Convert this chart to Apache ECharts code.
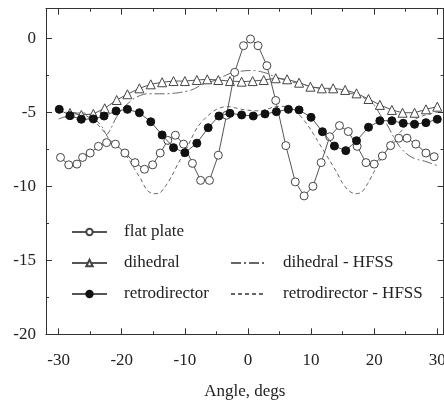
<!DOCTYPE html>
<html>
<head>
<meta charset="utf-8">
<script src="https://cdn.jsdelivr.net/npm/echarts@6/dist/echarts.min.js"></script>
<style>
html,body{margin:0;padding:0;background:#fff;}
#chart{width:444px;height:402px;}
</style>
</head>
<body>
<div id="chart"></div>
<script>
// ---- data ----
const xMajorTicks = [-30, -20, -10, 0, 10, 20, 30];
const xMinorTicks = [-25, -15, -5, 5, 15, 25];
const yMajorTicks = [-20, -15, -10, -5, 0];
const yMinorTicks = [-17.5, -12.5, -7.5, -2.5];

const flatPlate = [
  [-29.7,-8.05],[-28.4,-8.55],[-27.1,-8.5],[-26.2,-8.05],[-25.0,-7.75],[-23.7,-7.3],
  [-22.4,-7.05],[-21.0,-7.15],[-19.5,-7.75],[-17.9,-8.4],[-16.4,-8.85],[-15.1,-8.55],
  [-13.9,-7.75],[-12.7,-6.9],[-11.5,-6.55],[-10.2,-7.15],[-8.8,-8.45],[-7.5,-9.6],
  [-6.1,-9.6],[-4.7,-7.9],[-3.4,-5.2],[-2.1,-2.3],[-0.7,-0.5],[0.4,-0.05],[1.6,-0.5],
  [3.0,-1.85],[4.4,-4.2],[6.0,-7.25],[7.5,-9.7],[8.9,-10.65],[10.3,-10.0],[11.6,-8.4],
  [12.95,-6.65],[14.5,-5.9],[15.9,-6.3],[17.3,-7.3],[18.7,-8.4],[20.0,-8.5],[21.3,-7.95],
  [22.6,-7.25],[23.9,-6.75],[25.2,-6.75],[26.6,-7.15],[28.2,-7.75],[29.5,-8.0]
];
const dihedral = [
  [-28.2,-5.05],[-26.4,-5.18],[-24.5,-5.11],[-22.7,-4.73],[-20.8,-4.17],[-19.1,-3.78],
  [-17.2,-3.38],[-15.4,-3.11],[-13.6,-2.97],[-11.8,-2.89],[-10.0,-2.89],[-8.1,-2.82],
  [-6.45,-2.77],[-4.7,-2.82],[-2.85,-2.89],[-1.0,-2.93],[0.74,-2.89],[2.5,-2.82],
  [4.4,-2.7],[6.2,-2.77],[8.1,-3.0],[9.9,-3.27],[11.7,-3.38],[13.5,-3.38],[15.4,-3.49],
  [17.2,-3.72],[19.1,-4.1],[20.9,-4.5],[22.8,-4.84],[24.5,-5.03],[26.4,-5.03],
  [28.2,-4.8],[30.0,-4.62]
];
const retrodirector = [
  [-29.9,-4.8],[-28.2,-5.23],[-26.4,-5.47],[-24.5,-5.45],[-22.8,-5.25],[-20.9,-4.91],
  [-19.1,-4.8],[-17.2,-5.03],[-15.4,-5.64],[-13.6,-6.53],[-11.8,-7.39],[-10.0,-7.73],
  [-8.1,-7.09],[-6.3,-6.04],[-4.6,-5.25],[-2.85,-5.07],[-1.0,-5.18],[0.84,-5.25],
  [2.7,-5.11],[4.5,-4.96],[6.4,-4.8],[8.1,-4.84],[10.0,-5.34],[11.8,-6.31],[13.7,-7.28],
  [15.5,-7.59],[17.2,-6.92],[19.1,-6.01],[20.9,-5.57],[22.8,-5.57],[24.6,-5.74],
  [26.4,-5.81],[28.2,-5.7],[30.0,-5.47]
];
const dihedralHFSS = [
  [-30,-5.45],[-29,-5.3],[-28,-5.15],[-27,-5.05],[-26,-5.05],[-25,-5.2],[-24,-5.55],
  [-23,-6.05],[-22.4,-6.5],[-21.6,-6.0],[-21,-5.45],[-20,-4.8],[-19,-4.4],[-18,-4.05],
  [-17,-3.85],[-16,-3.75],[-15,-3.75],[-14,-3.75],[-13,-3.75],[-12,-3.72],[-11,-3.68],
  [-10,-3.6],[-9,-3.5],[-8,-3.3],[-7,-3.1],[-6,-2.95],[-5,-2.8],[-4,-2.6],[-3,-2.4],
  [-2,-2.28],[-1,-2.22],[0,-2.18],[1,-2.18],[2,-2.25],[3,-2.37],[4,-2.55],[5,-2.7],
  [6,-2.85],[7,-2.95],[8,-3.05],[9,-3.15],[10,-3.3],[11,-3.35],[12,-3.42],[13,-3.49],
  [14,-3.55],[15,-3.62],[16,-3.7],[17,-3.8],[18,-3.95],[19,-4.2],[20,-4.5],[21,-5.2],
  [22,-5.8],[23,-6.6],[24,-7.3],[25,-7.75],[26,-8.05],[27,-8.2],[28,-8.3],[29,-8.45],
  [30,-8.6]
];
const retrodirectorHFSS = [
  [-30,-5.0],[-29,-5.0],[-28,-5.0],[-27,-5.05],[-26,-5.15],[-25,-5.4],[-24,-5.75],
  [-23,-6.2],[-22,-6.8],[-21,-7.2],[-20,-7.6],[-19,-8.1],[-18,-8.8],[-17,-9.5],
  [-16,-10.25],[-15,-10.5],[-14,-10.45],[-13,-9.95],[-12,-9.25],[-11,-8.4],[-10,-7.7],
  [-9,-6.8],[-8,-6.0],[-7,-5.5],[-6,-5.1],[-5,-4.8],[-4,-4.65],[-3,-4.62],[-2,-4.7],
  [-1,-4.8],[0,-4.85],[1,-4.9],[2,-4.9],[3,-4.8],[4,-4.65],[5,-4.6],[6,-4.6],[7,-4.7],
  [8,-5.1],[9,-5.6],[10,-6.2],[11,-6.9],[12,-7.6],[13,-8.3],[14,-9.0],[15,-9.8],
  [16,-10.3],[17,-10.5],[18,-10.4],[19,-9.8],[20,-9.0],[21,-8.2],[22,-7.5],[23,-6.9],
  [24,-6.4],[25,-5.95],[26,-5.6],[27,-5.35],[28,-5.2],[29,-5.1],[30,-5.0]
];

// ---- chart ----
const FONT = '"Liberation Serif", "Times New Roman", serif';
const FS = 17;
const AX = '#333';
const chart = echarts.init(document.getElementById('chart'), null, {renderer: 'canvas'});

function xAx(pos, ticks, len, showLine, showLabel, extra) {
  return Object.assign({
    type: 'value', min: -32, max: 31, position: pos, gridIndex: 0,
    axisLine: {show: showLine, onZero: false, lineStyle: {color: AX, width: 1}},
    axisTick: {show: true, inside: true, length: len, customValues: ticks, lineStyle: {color: AX, width: 1}},
    axisLabel: {show: showLabel, customValues: ticks, fontFamily: FONT, fontSize: FS, color: '#222', margin: 18},
    splitLine: {show: false}
  }, extra || {});
}
function yAx(pos, ticks, len, showLine, showLabel) {
  return {
    type: 'value', min: -20, max: 2, position: pos, gridIndex: 0,
    axisLine: {show: showLine, onZero: false, lineStyle: {color: AX, width: 1}},
    axisTick: {show: true, inside: true, length: len, customValues: ticks, lineStyle: {color: AX, width: 1}},
    axisLabel: {show: showLabel, customValues: ticks, fontFamily: FONT, fontSize: FS, color: '#222', margin: 10},
    splitLine: {show: false}
  };
}

const hidden = {color: 'rgba(0,0,0,0)', borderColor: 'rgba(0,0,0,0)', borderWidth: 0, opacity: 0};
const lineCol = '#555';
const legendText = {fontFamily: FONT, fontSize: FS, color: '#222', padding: [0, 0, 0, 12]};
const option = {
  animation: false,
  backgroundColor: '#fff',
  grid: {left: 46, right: 0.4, top: 8.7, bottom: 67.7, containLabel: false, outerBoundsMode: 'none'},
  xAxis: [
    xAx('bottom', xMajorTicks, 6, true, true, {
      name: 'Angle, degs', nameLocation: 'middle', nameGap: 57,
      nameTextStyle: {fontFamily: FONT, fontSize: FS, color: '#222', verticalAlign: 'middle'}
    }),
    xAx('bottom', xMinorTicks, 3, false, false),
    xAx('top', xMajorTicks, 6, true, false),
    xAx('top', xMinorTicks, 3, false, false)
  ],
  yAxis: [
    yAx('left', yMajorTicks, 6, true, true),
    yAx('left', yMinorTicks, 3, false, false),
    yAx('right', yMajorTicks, 6, true, false),
    yAx('right', yMinorTicks, 3, false, false)
  ],
  legend: [
    {
      data: ['flat plate', 'dihedral', 'retrodirector'],
      orient: 'vertical', left: 71, top: 223.5, padding: 0,
      itemWidth: 35, itemHeight: 8, itemGap: 14,
      selectedMode: false, textStyle: legendText
    },
    {
      data: [
        {name: 'dihedral - HFSS', itemStyle: hidden},
        {name: 'retrodirector - HFSS', itemStyle: hidden}
      ],
      orient: 'vertical', left: 230, top: 254.5, padding: 0,
      itemWidth: 35, itemHeight: 8, itemGap: 14,
      selectedMode: false, textStyle: legendText
    }
  ],
  series: [
    {
      name: 'dihedral - HFSS', type: 'line', data: dihedralHFSS, smooth: 0.3,
      showSymbol: false, symbol: 'none', z: 1,
      lineStyle: {color: '#666', width: 1, type: [10, 3, 2, 3]},
      itemStyle: {color: '#666'}
    },
    {
      name: 'retrodirector - HFSS', type: 'line', data: retrodirectorHFSS, smooth: 0.3,
      showSymbol: false, symbol: 'none', z: 1,
      lineStyle: {color: '#666', width: 1, type: [4, 3]},
      itemStyle: {color: '#666'}
    },
    {
      name: 'flat plate', type: 'line', data: flatPlate, symbol: 'circle', symbolSize: 8, z: 3,
      lineStyle: {color: lineCol, width: 1},
      itemStyle: {color: '#fff', borderColor: '#444', borderWidth: 1}
    },
    {
      name: 'dihedral', type: 'line', data: dihedral, symbol: 'triangle', symbolSize: 9, z: 2,
      lineStyle: {color: lineCol, width: 1},
      itemStyle: {color: '#fff', borderColor: '#444', borderWidth: 1}
    },
    {
      name: 'retrodirector', type: 'line', data: retrodirector, symbol: 'circle', symbolSize: 8, z: 4,
      lineStyle: {color: lineCol, width: 1},
      itemStyle: {color: '#111', borderColor: '#111', borderWidth: 1}
    }
  ]
};
chart.setOption(option);
</script>
</body>
</html>
